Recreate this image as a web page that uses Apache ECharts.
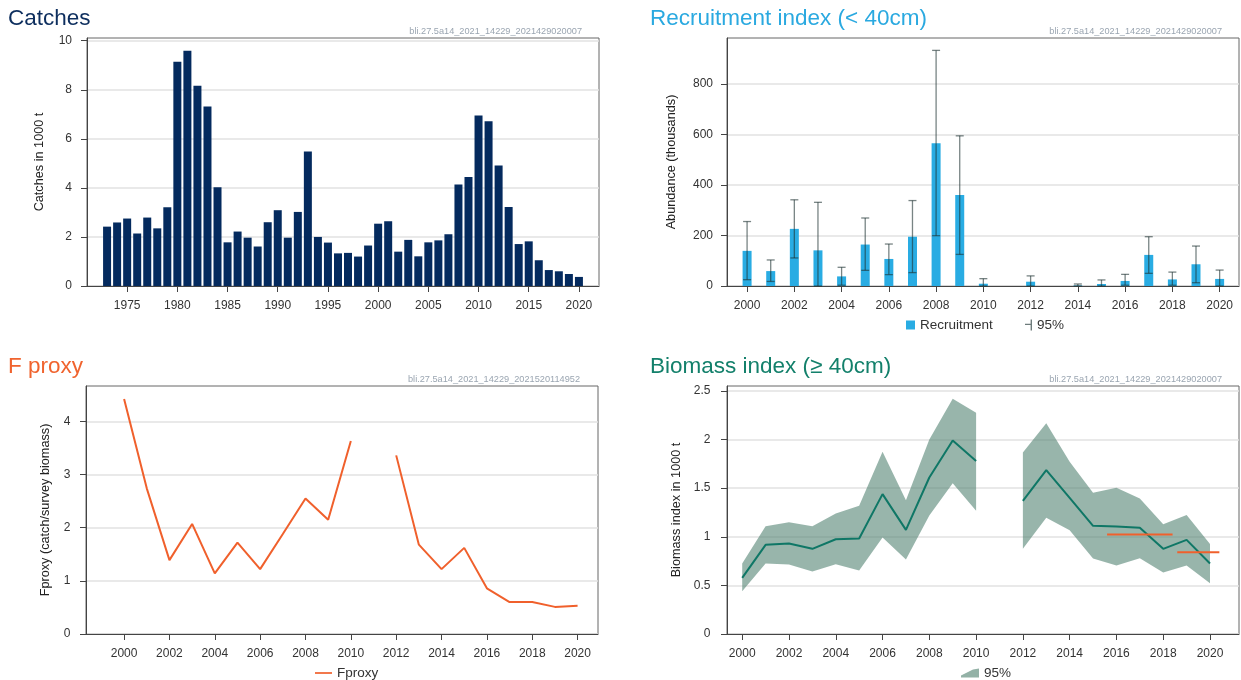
<!DOCTYPE html>
<html>
<head>
<meta charset="utf-8">
<script src="https://cdn.jsdelivr.net/npm/echarts@6/dist/echarts.min.js"></script>
<style>
html,body{margin:0;padding:0;background:#fff;}
#c{width:1241px;height:680px;}
</style>
</head>
<body>
<div id="c"></div>
<script>
// ---------- DATA ----------
const catchYears = [1973,1974,1975,1976,1977,1978,1979,1980,1981,1982,1983,1984,1985,1986,1987,1988,1989,1990,1991,1992,1993,1994,1995,1996,1997,1998,1999,2000,2001,2002,2003,2004,2005,2006,2007,2008,2009,2010,2011,2012,2013,2014,2015,2016,2017,2018,2019,2020];
const catches = [2.42,2.59,2.75,2.14,2.79,2.35,3.21,9.14,9.59,8.16,7.32,4.03,1.78,2.22,1.97,1.61,2.60,3.09,1.97,3.02,5.48,2.00,1.77,1.33,1.35,1.20,1.65,2.54,2.64,1.40,1.88,1.21,1.78,1.86,2.11,4.14,4.44,6.95,6.72,4.91,3.22,1.71,1.82,1.05,0.65,0.60,0.49,0.37];
const catchTicks = [1975,1980,1985,1990,1995,2000,2005,2010,2015,2020];

const surveyYears = [2000,2001,2002,2003,2004,2005,2006,2007,2008,2009,2010,2011,2012,2013,2014,2015,2016,2017,2018,2019,2020];
const evenYears = [2000,2002,2004,2006,2008,2010,2012,2014,2016,2018,2020];

const recruitment = [139,59,226,141,38,164,107,195,565,360,9,null,17,null,2,8,20,123,26,86,28];
const recLow  = [25,18,111,0,3,62,45,53,199,125,0,null,0,null,0,0,3,50,3,13,0];
const recHigh = [255,103,341,331,74,269,166,338,932,594,29,null,40,null,8,24,46,195,55,158,63];

const fproxy = [4.42,2.74,1.39,2.07,1.14,1.72,1.22,1.88,2.55,2.15,3.63,null,3.36,1.68,1.22,1.62,0.86,0.60,0.60,0.51,0.53];

const biomass = [0.577,0.917,0.931,0.876,0.975,0.982,1.439,1.071,1.61,1.99,1.78,null,1.37,1.686,1.40,1.113,1.106,1.092,0.876,0.968,0.725];
const bioLow  = [0.44,0.725,0.714,0.642,0.718,0.652,0.992,0.766,1.22,1.55,1.267,null,0.876,1.195,1.068,0.776,0.704,0.78,0.632,0.704,0.522];
const bioHigh = [0.725,1.109,1.15,1.109,1.24,1.319,1.875,1.377,2.00,2.42,2.277,null,1.868,2.167,1.772,1.453,1.504,1.394,1.13,1.223,0.927];

// reference levels (orange segments)
const refStart = [2015.6, 2018.6];
const refEnd   = [2018.4, 2020.4];
const refLevel = [1.023, 0.841];

const catchYTicks = [0,2,4,6,8,10];
const recYTicks = [0,200,400,600,800];
const fYTicks = [0,1,2,3,4];
const bioYTicks = [0,0.5,1,1.5,2,2.5];

// ---------- STYLE ----------
const FONT = '"Liberation Sans", Arial, sans-serif';
const AX = '#444';
const C_NAVY = '#042a5e', C_BLUE = '#29ace3', C_ORANGE = '#f0602c', C_TEAL = '#0f7766';
const C_BAND = 'rgba(78,128,110,0.58)';
const C_ERR = 'rgba(30,50,50,0.6)';

function xAxisCfg(gi, min, max, ticks) {
  return {
    type: 'value', gridIndex: gi, min: min, max: max,
    axisLine: {show: true, onZero: false, lineStyle: {color: AX, width: 1}},
    axisTick: {show: true, length: 6, customValues: ticks, lineStyle: {color: AX}},
    axisLabel: {customValues: ticks, margin: 13.5, color: '#333', fontSize: 12, fontFamily: FONT, formatter: v => String(v)},
    splitLine: {show: false}
  };
}
function yAxisCfg(gi, max, ticks, name, nameGap, labelMargin) {
  return {
    type: 'value', gridIndex: gi, min: 0, max: max,
    name: name, nameLocation: 'middle', nameGap: nameGap,
    nameTextStyle: {color: '#222', fontSize: 12.7, fontFamily: FONT},
    axisLine: {show: true, lineStyle: {color: AX, width: 1}},
    axisTick: {show: true, length: 6, customValues: ticks, lineStyle: {color: AX}},
    axisLabel: {customValues: ticks, margin: labelMargin, color: '#333', fontSize: 12, fontFamily: FONT, formatter: v => String(v)},
    splitLine: {show: true, lineStyle: {color: '#e2e2e2', width: 1.5}}
  };
}
function gridCfg(left, top) {
  return {left: left, top: top, width: 512, height: 248, show: true, borderColor: '#666', borderWidth: 1,
          backgroundColor: 'transparent', containLabel: false, outerBoundsMode: 'none'};
}
function titleCfg(text, left, top, color) {
  return {text: text, left: left, top: top, padding: 0,
          textStyle: {color: color, fontSize: 22.5, fontWeight: 'normal', fontFamily: FONT}};
}
function srcCfg(text, right, top) {
  return {text: text, right: right, top: top, padding: 0,
          textStyle: {color: '#9aa5b1', fontSize: 9.2, fontWeight: 'normal', fontFamily: FONT}};
}
const legendText = {color: '#333', fontSize: 13.5, fontFamily: FONT};

const chart = echarts.init(document.getElementById('c'), null, {renderer: 'canvas'});

const option = {
  animation: false,
  backgroundColor: '#ffffff',
  title: [
    titleCfg('Catches', 8, 7.5, '#0d2e5e'),
    titleCfg('Recruitment index (< 40cm)', 650, 7.5, '#2aa9e0'),
    titleCfg('F proxy', 8, 355.5, '#f0632e'),
    titleCfg('Biomass index (\u2265 40cm)', 650, 355.5, '#13806b'),
    srcCfg('bli.27.5a14_2021_14229_2021429020007', 659, 27),
    srcCfg('bli.27.5a14_2021_14229_2021429020007', 19, 27),
    srcCfg('bli.27.5a14_2021_14229_2021520114952', 661, 375),
    srcCfg('bli.27.5a14_2021_14229_2021429020007', 19, 375)
  ],
  legend: [
    {left: 906, top: 318, padding: 0, itemWidth: 9, itemHeight: 9, textStyle: legendText, selectedMode: false,
     data: [{name: 'Recruitment', icon: 'rect', itemStyle: {color: C_BLUE}}]},
    {left: 1025, top: 318, padding: 0, itemWidth: 7, itemHeight: 11, textStyle: legendText, selectedMode: false,
     data: [{name: '95%', icon: 'path://M5.6,0 h1.4 v11 h-1.4 z M0,4.2 h5.6 v1.4 h-5.6 z', itemStyle: {color: '#6d7b7b'}}]},
    {left: 315, top: 666, padding: 0, itemWidth: 17, itemHeight: 2, textStyle: legendText, selectedMode: false,
     data: [{name: 'Fproxy', icon: 'path://M0,0 h20 v2 h-20 z', itemStyle: {color: C_ORANGE}}]},
    {left: 961, top: 666, padding: 0, itemWidth: 18, itemHeight: 10, textStyle: legendText, selectedMode: false,
     data: [{name: '95%', icon: 'path://M0,10 L0,8 L12,2 L18,1 L18,10 Z', itemStyle: {color: '#93b1a6'}}]}
  ],
  grid: [gridCfg(87, 38), gridCfg(727, 38), gridCfg(86, 386), gridCfg(727, 386)],
  xAxis: [
    xAxisCfg(0, 1971.0, 2022.0, catchTicks),
    xAxisCfg(1, 1999.15, 2020.82, evenYears),
    xAxisCfg(2, 1998.32, 2020.9, evenYears),
    xAxisCfg(3, 1999.35, 2021.24, evenYears)
  ],
  yAxis: [
    yAxisCfg(0, 10.11, catchYTicks, 'Catches in 1000 t', 41, 15),
    yAxisCfg(1, 981, recYTicks, 'Abundance (thousands)', 49, 14),
    yAxisCfg(2, 4.665, fYTicks, 'Fproxy (catch/survey biomass)', 34, 15.5),
    yAxisCfg(3, 2.551, bioYTicks, 'Biomass index in 1000 t', 44, 16.5)
  ],
  series: [
    {
      type: 'bar', name: 'Catches', xAxisIndex: 0, yAxisIndex: 0, barWidth: 8,
      itemStyle: {color: C_NAVY},
      data: catchYears.map((y, i) => [y, catches[i]])
    },
    {
      type: 'bar', name: 'Recruitment', xAxisIndex: 1, yAxisIndex: 1, barWidth: 9,
      itemStyle: {color: C_BLUE},
      data: surveyYears.map((y, i) => [y, recruitment[i] == null ? '-' : recruitment[i]])
    },
    {
      type: 'custom', name: '95%', xAxisIndex: 1, yAxisIndex: 1, z: 5,
      itemStyle: {color: '#6d7b7b'},
      encode: {x: 0, y: [1, 2]},
      data: surveyYears.map((y, i) => [y, recLow[i] == null ? '-' : recLow[i], recHigh[i] == null ? '-' : recHigh[i]]),
      renderItem: function (params, api) {
        const i = params.dataIndex;
        if (recHigh[i] == null) return null;
        const pLo = api.coord([surveyYears[i], recLow[i]]);
        const pHi = api.coord([surveyYears[i], recHigh[i]]);
        const hw = 4;
        const st = {stroke: C_ERR, lineWidth: 1.3, fill: null};
        return {
          type: 'group',
          children: [
            {type: 'line', shape: {x1: pLo[0], y1: pLo[1], x2: pHi[0], y2: pHi[1]}, style: st},
            {type: 'line', shape: {x1: pHi[0] - hw, y1: pHi[1], x2: pHi[0] + hw, y2: pHi[1]}, style: st},
            {type: 'line', shape: {x1: pLo[0] - hw, y1: pLo[1], x2: pLo[0] + hw, y2: pLo[1]}, style: st}
          ]
        };
      }
    },
    {
      type: 'line', name: 'Fproxy', xAxisIndex: 2, yAxisIndex: 2,
      symbol: 'none', showSymbol: false, connectNulls: false,
      itemStyle: {color: C_ORANGE},
      lineStyle: {color: C_ORANGE, width: 2},
      data: surveyYears.map((y, i) => [y, fproxy[i] == null ? '-' : fproxy[i]])
    },
    {
      type: 'custom', name: '95%', xAxisIndex: 3, yAxisIndex: 3, z: 2,
      itemStyle: {color: '#93b1a6'},
      encode: {x: 0, y: [1, 2]},
      data: surveyYears.map((y, i) => [y, bioLow[i] == null ? '-' : bioLow[i], bioHigh[i] == null ? '-' : bioHigh[i]]),
      renderItem: function (params, api) {
        const i = params.dataIndex;
        if (bioHigh[i] == null) return null;
        if (i > 0 && bioHigh[i - 1] != null) return null;
        let j = i;
        while (j + 1 < surveyYears.length && bioHigh[j + 1] != null) j++;
        const up = [], lo = [];
        for (let k = i; k <= j; k++) {
          up.push(api.coord([surveyYears[k], bioHigh[k]]));
          lo.unshift(api.coord([surveyYears[k], bioLow[k]]));
        }
        return {type: 'polygon', shape: {points: up.concat(lo)}, style: {fill: C_BAND, stroke: null}};
      }
    },
    {
      type: 'line', name: 'Biomass', xAxisIndex: 3, yAxisIndex: 3, z: 4,
      symbol: 'none', showSymbol: false, connectNulls: false,
      itemStyle: {color: C_TEAL},
      lineStyle: {color: C_TEAL, width: 2},
      data: surveyYears.map((y, i) => [y, biomass[i] == null ? '-' : biomass[i]])
    },
    {
      type: 'custom', name: 'Reference', xAxisIndex: 3, yAxisIndex: 3, z: 6,
      encode: {x: [0, 1], y: 2},
      data: refStart.map((s, i) => [s, refEnd[i], refLevel[i]]),
      renderItem: function (params, api) {
        const i = params.dataIndex;
        const a = api.coord([refStart[i], refLevel[i]]);
        const b = api.coord([refEnd[i], refLevel[i]]);
        return {type: 'line', shape: {x1: a[0], y1: a[1], x2: b[0], y2: b[1]}, style: {stroke: C_ORANGE, lineWidth: 2}};
      }
    }
  ]
};
chart.setOption(option);
</script>
</body>
</html>
